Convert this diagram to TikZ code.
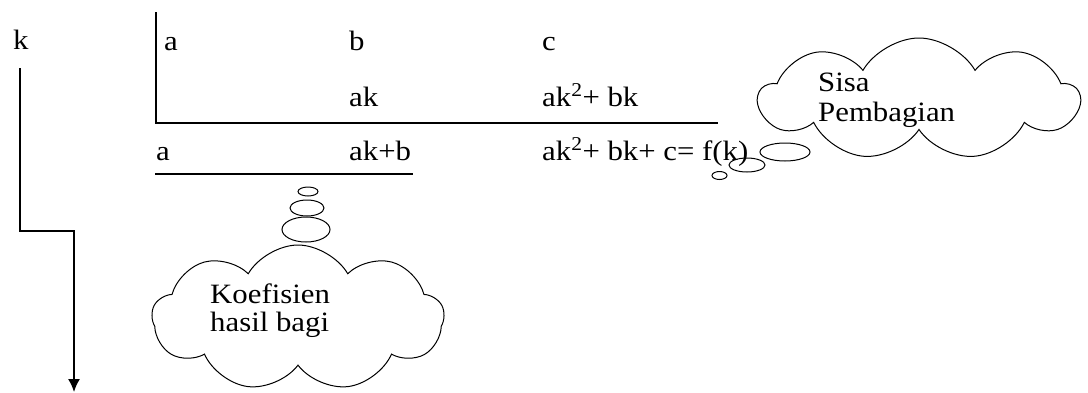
\documentclass[tikz,border=0pt]{standalone}
\usepackage{fontspec}
\setmainfont{Liberation Serif}[FakeStretch=1.1]
\usetikzlibrary{shapes.symbols,shapes.geometric,arrows.meta}
\begin{document}
\begin{tikzpicture}[x=1pt,y=-1pt,
  txt/.style={inner sep=0pt, anchor=base west, font=\fontsize{28}{30}\selectfont},
  rule/.style={line width=1.5pt},
  bubble/.style={draw, ellipse, line width=1pt, inner sep=0pt},
  thought/.style={draw, cloud, cloud puffs=9, cloud puff arc=120, cloud ignores aspect, line width=1pt, inner sep=0pt}]
\useasboundingbox (0,0) rectangle (1088,392);
% labels
\node[txt] (k) at (13,49) {k};
\node[txt] (a1) at (164,50) {a};
\node[txt] (b1) at (349,50) {b};
\node[txt] (c1) at (542,50) {c};
\node[txt] (ak) at (349,106) {ak};
\node[txt] (ak2) at (542,106) {ak\textsuperscript{2}+ bk};
\node[txt] (a3) at (156,160) {a};
\node[txt] (akb) at (349,160) {ak+b};
\node[txt] (fk) at (542,160) {ak\textsuperscript{2}+ bk+ c= f(k)};
% division bracket
\coordinate (bt) at (156,12);
\coordinate (bc) at (156,123);
\coordinate (br) at (718,123);
\draw[rule] (bt) -- (bc) -- (br);
\coordinate (ul) at (155,174);
\coordinate (ur) at (413,174);
\draw[rule] (ul) -- (ur);
% k arrow
\coordinate (k1) at (20,68);
\coordinate (k2) at (20,231);
\coordinate (k3) at (74,231);
\coordinate (k4) at (74,392);
\draw[rule, -{Latex[length=13pt,width=12pt]}] (k1) -- (k2) -- (k3) -- (k4);
% thought bubble 1
\node[bubble, minimum width=20pt, minimum height=9pt] (e1) at (308,191.5) {};
\node[bubble, minimum width=34pt, minimum height=16pt] (e2) at (307,208) {};
\node[bubble, minimum width=48pt, minimum height=25pt] (e3) at (306,229.5) {};
\node[thought, minimum width=292pt, minimum height=146pt] (cl1) at (298,318) {};
\node[txt] (t1a) at (210,303) {Koefisien};
\node[txt] (t1b) at (210,331) {hasil bagi};
% thought bubble 2
\node[bubble, minimum width=15pt, minimum height=8pt] (f1) at (719.5,175.5) {};
\node[bubble, minimum width=36pt, minimum height=14pt] (f2) at (747,165) {};
\node[bubble, minimum width=50pt, minimum height=18pt] (f3) at (785,152) {};
\node[thought, minimum width=320pt, minimum height=122pt] (cl2) at (919,99) {};
\node[txt] (t2a) at (818,91) {Sisa};
\begin{scope}
\clip (800,97) rectangle (1000,127);
\node[txt] (t2b) at (818,121) {Pembagian};
\end{scope}
\end{tikzpicture}
\end{document}
